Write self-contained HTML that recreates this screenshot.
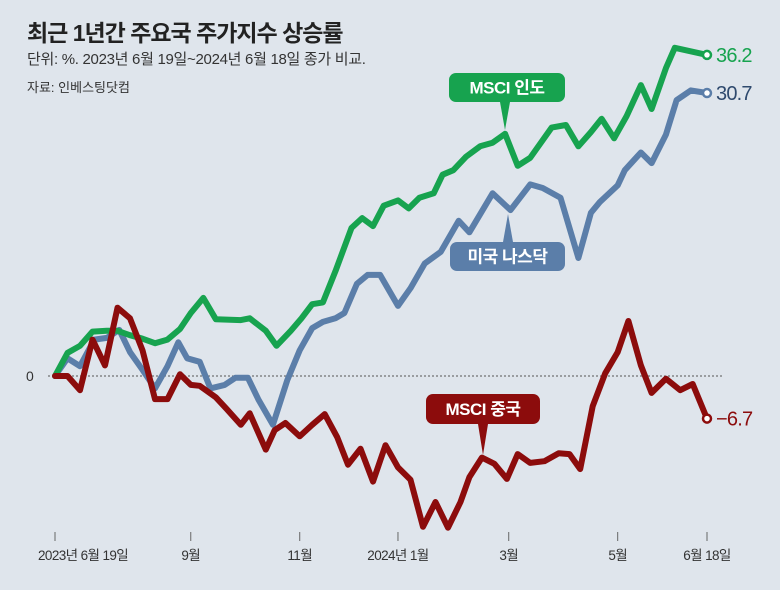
<!DOCTYPE html>
<html><head><meta charset="utf-8"><style>
body{margin:0;background:#dfe5ec;}
svg{display:block;font-family:"Liberation Sans","Noto Sans CJK KR",sans-serif;}
</style></head><body>
<svg id="chart" width="780" height="590" viewBox="0 0 780 590">
<rect width="780" height="590" fill="#dfe5ec"/>
<text x="27" y="41" font-size="23" font-weight="bold" fill="#222" letter-spacing="-1">최근 1년간 주요국 주가지수 상승률</text>
<text x="27" y="64" font-size="15" fill="#333" letter-spacing="-0.3">단위: %. 2023년 6월 19일~2024년 6월 18일 종가 비교.</text>
<text x="27" y="92" font-size="13" fill="#333">자료: 인베스팅닷컴</text>
<g id="axes"></g>
<g id="lines"></g>
<g id="labels"></g>
</svg>
<script>
const tickDays=[0,76,137,192,254,315,365];
const tickLabels=["2023년 6월 19일","9월","11월","2024년 1월","3월","5월","6월 18일"];
const indiaDays=[0,7,14,21,29,35,42,49,56,63,70,76,83,90,104,109,118,124,132,138,144,150,157,166,172,178,184,192,198,204,212,217,223,230,238,245,252,259,266,278,286,293,300,306,313,320,328,334,342,347,365];
const indiaValues=[0,2.6,3.4,5.0,5.1,5.1,4.6,4.2,3.7,4.1,5.3,7.1,8.8,6.4,6.3,6.5,5.1,3.4,5.1,6.5,8.1,8.3,11.8,16.7,17.8,16.9,19.2,19.8,18.9,20.1,20.6,22.7,23.2,24.7,25.9,26.3,27.3,23.7,24.6,28.0,28.3,25.9,27.5,29.0,26.8,29.3,32.8,30.1,34.7,37.0,36.2];
const nasdaqDays=[0,7,14,22,29,36,42,49,56,63,69,74,81,87,95,101,108,114,122,130,137,144,150,157,162,169,175,182,192,199,207,216,226,232,245,255,266,273,283,293,300,305,315,319,328,334,342,348,356,365];
const nasdaqValues=[0,2.0,1.1,4.1,4.3,5.2,2.7,0.7,-1.4,1.1,3.8,2.0,1.6,-1.4,-1.0,-0.2,-0.2,-2.7,-5.5,-0.5,2.9,5.4,6.1,6.5,7.1,10.4,11.4,11.4,7.9,9.9,12.7,14.0,17.5,16.2,20.6,18.7,21.6,21.2,20.1,13.3,18.4,19.6,21.5,23.2,25.2,24.0,27.2,31.1,32.2,31.9];
const chinaDays=[0,7,14,21,28,35,42,49,56,63,70,76,81,90,96,104,109,118,123,129,137,144,151,158,164,171,178,185,192,199,206,213,220,227,232,239,246,253,259,266,274,282,288,294,301,308,315,321,328,334,342,350,357,365];
const chinaValues=[0,0,-1.6,4.1,1.2,7.7,6.5,2.9,-2.6,-2.6,0.2,-1.0,-1.1,-2.4,-3.7,-5.5,-4.2,-8.3,-6.1,-5.3,-6.8,-5.5,-4.3,-6.9,-10.0,-8.2,-11.9,-7.8,-10.3,-11.7,-17.0,-14.2,-17.1,-14.2,-11.4,-9.2,-9.9,-11.6,-8.8,-9.8,-9.6,-8.7,-8.8,-10.5,-3.4,0.3,2.7,6.2,1.2,-1.9,-0.3,-1.6,-0.9,-4.8];
const endLabels=["36.2","30.7","−6.7"];

const NS="http://www.w3.org/2000/svg";
const xs=d=>55+d*(652/365);
const ys=v=>376-v*8.87;
function mk(tag,attrs,parent){const e=document.createElementNS(NS,tag);for(const k in attrs)e.setAttribute(k,attrs[k]);parent.appendChild(e);return e;}
const axes=document.getElementById('axes'),lines=document.getElementById('lines'),labels=document.getElementById('labels');

const zl=mk('line',{x1:48,x2:722,y1:ys(0),y2:ys(0),stroke:'#555','stroke-width':1,'stroke-dasharray':'2,2'},axes);


const zt=mk('text',{x:26,y:ys(0)+5,'font-size':14,fill:'#333'},axes);zt.textContent='0';


tickDays.forEach((d,i)=>{
  const t=mk('line',{x1:xs(d),x2:xs(d),y1:532,y2:541,stroke:'#666','stroke-width':1},axes);
  
  
  const first=i===0;
  const l=mk('text',{x:first?38:xs(d),y:560,'font-size':13.5,fill:'#333','text-anchor':first?'start':'middle','letter-spacing':'-0.6'},axes);
  l.textContent=tickLabels[i];
  
  
});

const series=[
 {days:nasdaqDays,vals:nasdaqValues,color:'#5b7ea9',name:'nasdaq-line',lc:'#2f4a6e',li:1},
 {days:indiaDays,vals:indiaValues,color:'#17a34f',name:'msci-india-line',lc:'#17a34f',li:0},
 {days:chinaDays,vals:chinaValues,color:'#8c0c0c',name:'msci-china-line',lc:'#8c0c0c',li:2}
];
series.forEach(s=>{
  const pts=s.days.map((d,i)=>xs(d).toFixed(1)+','+ys(s.vals[i]).toFixed(1)).join(' ');
  const p=mk('polyline',{points:pts,fill:'none',stroke:s.color,'stroke-width':6,'stroke-linejoin':'round','stroke-linecap':'round'},lines);
  
  
  const n=s.days.length-1,ex=xs(s.days[n]),ey=ys(s.vals[n]);
  const c=mk('circle',{cx:ex,cy:ey,r:4,fill:'#fff',stroke:s.color,'stroke-width':2.5},lines);
  
  
  const t=mk('text',{x:ex+9,y:ey+7,'font-size':20,fill:s.lc,'letter-spacing':'-0.8'},labels);
  t.textContent=endLabels[s.li];
  
  
});

function callout(x,y,w,h,color,text,px,py,name){
  const g=mk('g',{},labels);
  
  
  mk('rect',{x:x,y:y,width:w,height:h,rx:7,fill:color},g);
  const up=py<y;
  const by=up?y:y+h;
  mk('polygon',{points:(px-5)+','+by+' '+(px+5)+','+by+' '+px+','+py,fill:color},g);
  const t=mk('text',{x:x+w/2,y:y+h/2+6,'font-size':17,'font-weight':'bold',fill:'#fff','text-anchor':'middle','letter-spacing':'-0.5'},g);
  t.textContent=text;
}
callout(449,73,116,29,'#17a34f','MSCI 인도',505,130,'msci-india-callout');
callout(450,242,115,29,'#5b7ea9','미국 나스닥',508,214,'nasdaq-callout');
callout(426,394,114,30,'#8c0c0c','MSCI 중국',483,455,'msci-china-callout');
</script>
</body></html>
